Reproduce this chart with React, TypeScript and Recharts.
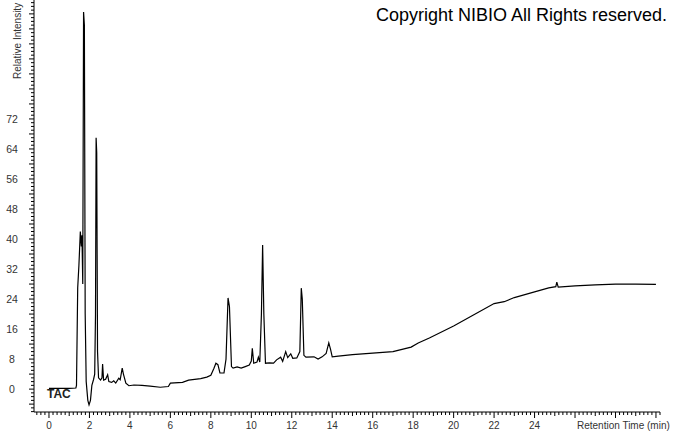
import { LineChart, Line, XAxis, YAxis } from "recharts";

// retention time (min) and relative intensity
const times = [
  0, 1.0, 1.33, 1.36, 1.42, 1.48, 1.55, 1.6, 1.63, 1.67, 1.71, 1.75, 1.79, 1.84, 1.92, 1.98,
  2.05, 2.12, 2.2, 2.26, 2.3, 2.33, 2.36, 2.4, 2.45, 2.55, 2.62, 2.65, 2.7, 2.8, 2.9, 2.96,
  3.1, 3.2, 3.3, 3.45, 3.52, 3.62, 3.68, 3.8, 3.95, 4.2, 4.6, 5.0, 5.5, 5.9, 6.0, 6.6, 6.9,
  7.5, 7.8, 8.0, 8.15, 8.25, 8.35, 8.45, 8.65, 8.75, 8.85, 8.92, 9.02, 9.1, 9.3, 9.5, 9.7,
  9.9, 10.0, 10.05, 10.12, 10.28, 10.35, 10.42, 10.5, 10.56, 10.62, 10.7, 10.9, 11.1, 11.25,
  11.45, 11.55, 11.7, 11.8, 11.95, 12.05, 12.25, 12.4, 12.47, 12.52, 12.6, 12.7, 13.1, 13.3,
  13.5, 13.7, 13.83, 13.92, 14.0, 14.3, 15.0, 16.0, 17.0, 17.3, 17.9, 18.25, 18.8, 20.0,
  21.0, 22.0, 22.5, 23.0, 24.0, 24.7, 25.05, 25.1, 25.17, 26.0, 27.0, 28.0, 29.0, 30.0,
];
const intensities = [
  0.2, 0.2, 0.3, 1, 27, 33, 42, 38, 41, 28, 100.5, 97, 20, 2, -3, -4.2,
  -3, 1, 2.5, 4, 20, 67, 63, 10, 3, 2.4, 3, 6.7, 2.4, 2.6, 3.8, 2,
  1.8, 2.2, 1.6, 2.9, 2.5, 5.6, 4, 1.6, 0.9, 1.1, 1, 0.8, 0.5, 0.7, 1.6, 1.8, 2.4,
  2.8, 3.2, 3.7, 5.5, 6.9, 6.5, 4.3, 4.3, 8, 24.3, 22, 6, 5.6, 5.9, 5.6, 6,
  6.4, 7.5, 10.9, 6.9, 7.2, 8.5, 7.2, 20, 38.4, 20, 6.9, 7, 6.9, 7.8,
  8.5, 7.4, 10, 8.4, 9.4, 8.2, 8.3, 10, 26.9, 24, 9, 8.5, 8.6, 8,
  8.6, 9.5, 12.3, 10.5, 8.6, 8.8, 9.2, 9.6, 10, 10.4, 11.2, 12.3, 13.6, 16.8,
  19.8, 22.8, 23.3, 24.4, 25.9, 27, 27.3, 28.5, 27.2, 27.5, 27.8, 28, 28, 27.9,
];

const xLabels = [0, 2, 4, 6, 8, 10, 12, 14, 16, 18, 20, 22, 24];
const yLabels = [0, 8, 16, 24, 32, 40, 48, 56, 64, 72];

const data = times.map((t, i) => ({ t, v: intensities[i] }));

const xTicks: number[] = [];
for (let i = -3; i <= 151; i++) xTicks.push(Math.round(i * 2) / 10);
const yTicks: number[] = [];
for (let i = -6; i <= 103; i++) yTicks.push(i);

const FONT = "'Liberation Sans', Arial, sans-serif";

function XTick({ x, y, payload }: any) {
  const v = payload.value as number;
  const major = Math.abs(v - Math.round(v)) < 1e-6;
  const len = major && Math.round(v) % 2 === 0 ? 6 : major ? 4 : 3;
  const label = xLabels.some((l) => Math.abs(l - v) < 1e-6);
  return (
    <g>
      <line x1={x} x2={x} y1={y} y2={y + len} stroke="#000" />
      {label && (
        <text x={x} y={y + 17} textAnchor="middle" fontSize={10} fontFamily={FONT} fill="#333">
          {Math.round(v)}
        </text>
      )}
    </g>
  );
}

function YTick({ x, y, payload }: any) {
  const v = payload.value as number;
  const len = v % 4 === 0 ? 5 : 3;
  return (
    <g>
      <line x1={x - len} x2={x} y1={y} y2={y} stroke="#000" />
      {yLabels.includes(v) && (
        <text x={12} y={y + 4} textAnchor="middle" fontSize={10.5} fontFamily={FONT} fill="#333">
          {v}
        </text>
      )}
    </g>
  );
}

export default function App() {
  return (
    <div style={{ position: "absolute", left: 0, top: 0, width: 673, height: 433, background: "#fff" }}>
      <LineChart width={673} height={433} data={data} margin={{ top: 0, right: 13, left: 0, bottom: 0 }}>
        <XAxis
          dataKey="t"
          type="number"
          domain={[-0.74, 30.2]}
          allowDataOverflow
          ticks={xTicks}
          interval={0}
          tick={<XTick />}
          tickSize={0}
          tickMargin={0}
          tickLine={false}
          height={21}
          axisLine={{ stroke: "#000" }}
        />
        <YAxis
          type="number"
          domain={[-6.1, 103.7]}
          allowDataOverflow
          ticks={yTicks}
          interval={0}
          tick={<YTick />}
          tickSize={0}
          tickMargin={0}
          tickLine={false}
          width={34}
          axisLine={{ stroke: "#000" }}
        />
        <Line
          dataKey="v"
          type="linear"
          stroke="#000"
          strokeWidth={1.2}
          dot={false}
          isAnimationActive={false}
        />
        <text x={376} y={21} fontSize={18} fontFamily={FONT} fill="#000">
          Copyright NIBIO All Rights reserved.
        </text>
        <text x={47} y={398} fontSize={12} fontWeight="bold" fontFamily={FONT} fill="#222">
          TAC
        </text>
        <text x={577} y={429} fontSize={10} fontFamily={FONT} fill="#333">
          Retention Time (min)
        </text>
        <text
          x={21}
          y={79}
          fontSize={10}
          fontFamily={FONT}
          fill="#333"
          transform="rotate(-90 21 79)"
        >
          Relative Intensity
        </text>
      </LineChart>
    </div>
  );
}
